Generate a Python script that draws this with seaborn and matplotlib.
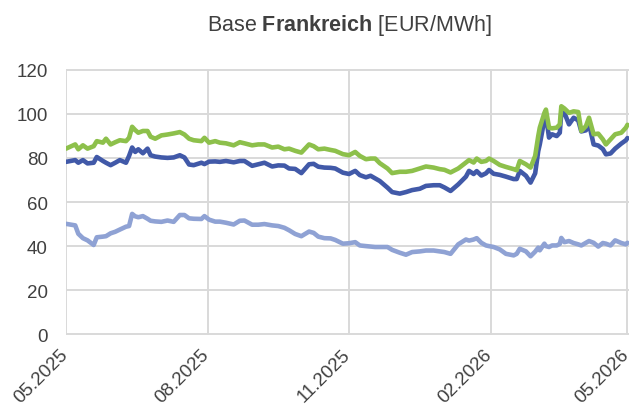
import matplotlib
matplotlib.use("Agg")
import matplotlib.pyplot as plt
import matplotlib.dates as mdates
import matplotlib.transforms as mtransforms
import pandas as pd
import seaborn as sns

# Trading dates shared by all three price series
dates = [
    "2025-05-01", "2025-05-07", "2025-05-09", "2025-05-12", "2025-05-15", "2025-05-19", "2025-05-21", "2025-05-25", "2025-05-27", "2025-05-30",
    "2025-06-02", "2025-06-05", "2025-06-09", "2025-06-11", "2025-06-13", "2025-06-15", "2025-06-17", "2025-06-20", "2025-06-23", "2025-06-25",
    "2025-06-28", "2025-07-02", "2025-07-06", "2025-07-10", "2025-07-14", "2025-07-17", "2025-07-20", "2025-07-23", "2025-07-28", "2025-07-30",
    "2025-08-02", "2025-08-06", "2025-08-09", "2025-08-13", "2025-08-18", "2025-08-22", "2025-08-25", "2025-08-30", "2025-09-03", "2025-09-07",
    "2025-09-12", "2025-09-16", "2025-09-20", "2025-09-23", "2025-09-27", "2025-10-01", "2025-10-06", "2025-10-09", "2025-10-12", "2025-10-16",
    "2025-10-20", "2025-10-23", "2025-10-28", "2025-11-01", "2025-11-05", "2025-11-08", "2025-11-12", "2025-11-15", "2025-11-18", "2025-11-21",
    "2025-11-26", "2025-11-29", "2025-12-04", "2025-12-08", "2025-12-12", "2025-12-17", "2025-12-21", "2025-12-26", "2025-12-30", "2026-01-02",
    "2026-01-06", "2026-01-11", "2026-01-16", "2026-01-18", "2026-01-21", "2026-01-23", "2026-01-26", "2026-01-29", "2026-01-31", "2026-02-03",
    "2026-02-07", "2026-02-11", "2026-02-16", "2026-02-18", "2026-02-20", "2026-02-24", "2026-02-27", "2026-03-02", "2026-03-04", "2026-03-05",
    "2026-03-08", "2026-03-09", "2026-03-11", "2026-03-13", "2026-03-16", "2026-03-18", "2026-03-19", "2026-03-21", "2026-03-24", "2026-03-27",
    "2026-03-30", "2026-04-01", "2026-04-04", "2026-04-06", "2026-04-09", "2026-04-12", "2026-04-15", "2026-04-17", "2026-04-20", "2026-04-23",
    "2026-04-27", "2026-04-30", "2026-05-01",
]

# EUR/MWh
price_top = [
    84.2, 86.1, 83.9, 85.7, 84.2, 85.3, 87.6, 86.9, 88.7, 86.1,
    87.1, 88.0, 87.6, 89.1, 94.1, 92.6, 91.4, 92.2, 92.2, 89.6,
    88.7, 90.2, 90.6, 91.1, 91.7, 90.6, 88.7, 88.0, 87.6, 89.1,
    86.9, 87.6, 86.9, 86.6, 85.7, 87.1, 86.6, 85.7, 86.1, 86.1,
    84.7, 85.1, 83.9, 84.2, 83.2, 82.4, 86.1, 85.3, 83.9, 84.2,
    83.6, 83.2, 81.7, 81.2, 82.7, 80.9, 79.4, 79.7, 79.7, 77.6,
    75.2, 73.1, 73.7, 73.7, 74.1, 75.2, 76.1, 75.6, 74.9, 74.6,
    73.4, 75.2, 77.9, 79.0, 77.9, 79.7, 78.2, 78.6, 79.7, 78.6,
    76.8, 75.9, 74.9, 74.4, 78.6, 77.1, 75.6, 80.9, 89.9, 93.7,
    100.4, 101.9, 93.7, 93.4, 93.7, 95.2, 103.4, 102.4, 100.4, 101.1,
    100.8, 92.2, 94.4, 98.2, 90.7, 91.0, 88.4, 86.1, 88.4, 90.7,
    91.4, 93.7, 95.0,
]

price_mid = [
    78.2, 79.0, 77.8, 79.0, 77.5, 77.8, 80.4, 78.6, 77.8, 76.7,
    77.8, 79.0, 77.8, 80.9, 84.7, 82.7, 83.9, 82.1, 84.2, 81.2,
    80.6, 80.2, 80.0, 80.2, 81.2, 80.2, 77.0, 76.7, 77.8, 77.2,
    78.3, 78.4, 78.2, 78.6, 78.0, 78.6, 78.6, 76.4, 77.1, 77.8,
    76.1, 76.6, 76.5, 75.2, 75.0, 73.1, 77.1, 77.3, 76.0, 75.6,
    75.5, 75.2, 73.3, 72.7, 74.1, 72.2, 71.2, 71.9, 70.7, 69.5,
    66.5, 64.5, 63.8, 64.5, 65.4, 66.0, 67.3, 67.6, 67.6, 66.6,
    65.0, 68.0, 71.5, 74.1, 72.7, 74.0, 72.0, 73.0, 74.5, 72.8,
    72.3, 71.5, 70.4, 70.4, 74.1, 71.9, 68.8, 73.0, 83.1, 86.1,
    97.4, 99.6, 89.2, 90.7, 89.9, 91.4, 100.5, 100.4, 95.2, 98.2,
    97.0, 92.0, 92.5, 95.5, 86.1, 85.6, 84.0, 81.6, 82.0, 84.2,
    86.5, 88.0, 89.0,
]

price_low = [
    50.1, 49.4, 45.6, 43.6, 42.6, 40.5, 44.0, 44.3, 44.5, 45.8,
    46.5, 47.5, 48.8, 49.1, 54.6, 53.5, 53.1, 53.6, 52.4, 51.5,
    51.2, 51.0, 51.6, 51.0, 54.1, 54.1, 52.6, 52.4, 52.3, 53.6,
    52.0, 51.1, 51.1, 50.6, 49.8, 51.5, 51.6, 49.7, 49.7, 50.0,
    49.4, 49.1, 48.3, 47.2, 45.5, 44.5, 46.6, 46.0, 44.3, 43.6,
    43.5, 42.8, 41.1, 41.3, 41.8, 40.3, 40.0, 39.8, 39.6, 39.6,
    39.6, 38.3, 37.0, 36.1, 37.3, 37.6, 38.0, 38.0, 37.6, 37.3,
    36.5, 40.8, 43.0, 42.5, 43.0, 43.6, 41.5, 40.3, 40.0, 39.6,
    38.5, 36.5, 35.8, 36.5, 38.8, 37.6, 35.4, 37.5, 39.3, 38.1,
    41.1, 40.0, 39.6, 40.3, 40.3, 41.0, 43.7, 41.8, 42.3, 41.4,
    40.8, 40.3, 41.5, 42.3, 41.5, 39.8, 41.4, 41.1, 40.3, 42.6,
    41.4, 40.8, 41.5,
]

tick_dates = ["2025-05-01", "2025-08-01", "2025-11-01", "2026-02-01", "2026-05-01"]
y_ticks = [0, 20, 40, 60, 80, 100, 120]

series_names = ["low", "mid", "top"]
palette = {"low": "#8fa2d4", "mid": "#4159a8", "top": "#8dc04b"}

frames = []
for name, values in zip(series_names, [price_low, price_mid, price_top]):
    frames.append(pd.DataFrame({"date": pd.to_datetime(dates), "price": values, "series": name}))
df = pd.concat(frames, ignore_index=True)

sns.set_theme(style="white")
plt.rcParams["font.family"] = ["Liberation Sans", "DejaVu Sans"]
plt.rcParams["mathtext.fontset"] = "custom"
plt.rcParams["mathtext.rm"] = "Liberation Sans"
plt.rcParams["mathtext.bf"] = "Liberation Sans:bold"

text_color = "#404040"
grid_color = "#d9d9d9"

fig = plt.figure(figsize=(6.31, 4.14), dpi=100)
ax = fig.add_axes([66 / 631, 1 - 336 / 414, 563 / 631, 266 / 414])

sns.lineplot(
    data=df, x="date", y="price", hue="series", hue_order=series_names,
    palette=palette, linewidth=3.3, legend=False, ax=ax,
    solid_capstyle="round", solid_joinstyle="round",
)

ax.set_xlim(pd.Timestamp("2025-05-01"), pd.Timestamp("2026-05-02"))
ax.set_ylim(-0.3, 120.3)
ax.set_yticks(y_ticks)
ax.set_xticks(pd.to_datetime(tick_dates))
ax.xaxis.set_major_formatter(mdates.DateFormatter("%m.%Y"))

ax.grid(True, color=grid_color, linewidth=1.4)
ax.set_axisbelow(True)
for s in ax.spines.values():
    s.set_visible(False)

ax.set_xlabel("")
ax.set_ylabel("")
ax.tick_params(axis="y", length=0, pad=13, labelsize=13.5, labelcolor=text_color)
ax.tick_params(axis="x", length=0, pad=11, labelsize=13.5, labelcolor=text_color)

# Slide the rotated date labels a little right and down
shift = mtransforms.ScaledTranslation(3.5 / 72, -5.5 / 72, fig.dpi_scale_trans)
for lbl in ax.get_xticklabels():
    lbl.set_rotation(45)
    lbl.set_ha("right")
    lbl.set_va("bottom")
    lbl.set_rotation_mode("anchor")
    lbl.set_transform(lbl.get_transform() + shift)

fig.text(349.5 / 631, 1 - 25 / 414, r"Base $\mathbf{Frankreich}$ [EUR/MWh]",
         ha="center", va="center", fontsize=15.5, color=text_color)

fig.savefig("out.png", dpi=100, facecolor="white")
